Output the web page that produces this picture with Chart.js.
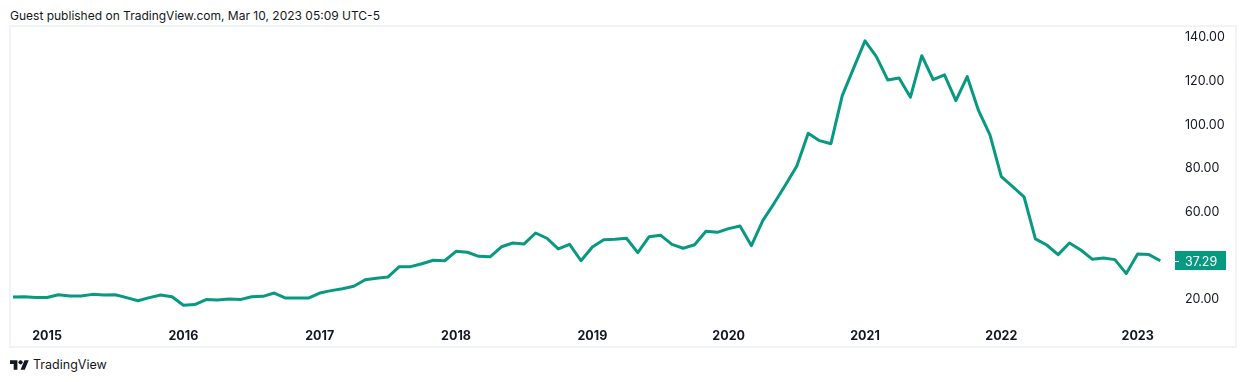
<!DOCTYPE html>
<html lang="en">
<head>
    <meta charset="UTF-8">
    <title>TradingView snapshot</title>
    <script src="https://cdn.jsdelivr.net/npm/chart.js"></script>
    <style>
        * {
            margin: 0;
            padding: 0;
            box-sizing: border-box;
        }
        body {
            width: 1246px;
            height: 382px;
            background: #ffffff;
            color: #131722;
            font-family: Inter, sans-serif;
            overflow: hidden;
            position: relative;
        }
        .published {
            position: absolute;
            left: 10px;
            top: 8px;
            font-size: 12px;
            line-height: 15px;
            white-space: nowrap;
        }
        .frame {
            position: absolute;
            left: 9px;
            top: 25px;
            width: 1228px;
            height: 323px;
            border: 2px solid #f0f3fa;
        }
        .frame div {
            position: relative;
            width: 1224px;
            height: 319px;
        }
        .brand {
            position: absolute;
            left: 10px;
            top: 357px;
            font-size: 12.5px;
            line-height: 16px;
            display: flex;
            align-items: center;
            gap: 4px;
        }
    </style>
</head>
<body>
    <div class="published">Guest published on TradingView.com, Mar 10, 2023 05:09 UTC-5</div>
    <div class="frame"><div><canvas id="chart"></canvas></div></div>
    <div class="brand">
        <svg width="19" height="15" viewBox="0 0 36 28"><path fill="#131722" d="M14 22H7V11H0V4h14v18zM28 22h-8l7.5-18h8L28 22z"/><circle fill="#131722" cx="20" cy="8" r="4"/></svg>
        <span>TradingView</span>
    </div>

    <script>
        // monthly closes, Oct 2014 to Mar 2023
        const closes = [
            20.7, 20.8, 20.5, 20.5, 21.7, 21.1, 21.1, 21.9, 21.6, 21.7, 20.4, 19.0,
            20.4, 21.6, 20.8, 16.9, 17.2, 19.5, 19.3, 19.8, 19.5, 20.8, 21.0, 22.5,
            20.2, 20.2, 20.2, 22.5, 23.6, 24.5, 25.6, 28.6, 29.3, 29.8, 34.6, 34.6,
            35.9, 37.5, 37.3, 41.6, 41.2, 39.3, 39.1, 43.7, 45.4, 45.0, 50.0, 47.6,
            42.7, 44.8, 37.3, 43.6, 46.9, 47.1, 47.6, 41.0, 48.3, 49.0, 44.8, 43.0,
            44.6, 50.8, 50.3, 52.0, 53.2, 44.2, 55.7, 63.6, 72.0, 80.7, 95.7, 92.3,
            90.9, 112.9, 125.5, 138.0, 130.8, 120.1, 121.0, 112.2, 131.2, 120.2, 122.4, 110.6,
            121.6, 106.0, 94.9, 75.8, 71.2, 66.6, 47.3, 44.5, 40.1, 45.4, 42.2, 38.0,
            38.6, 37.8, 31.4, 40.4, 40.1, 37.29
        ];
        const yearLabels = ["2015", "2016", "2017", "2018", "2019", "2020", "2021", "2022", "2023"];
        const yearPositions = [3, 15, 27, 39, 51, 63, 75, 87, 99];
        // 40.00 is hidden behind the last price tag on the original
        const priceTicks = [20, 60, 80, 100, 120, 140];
        const lastPrice = closes[closes.length - 1];
        const green = "#089981";

        const lastPriceTag = {
            id: "lastPriceTag",
            // Inter sits a bit high on a middle baseline, push the price labels down
            afterLayout(chart) {
                chart.scales.y.getLabelItems().forEach(item => {
                    item.options.translation[1] += 1;
                });
            },
            afterDraw(chart) {
                const ctx = chart.ctx;
                const left = chart.chartArea.right;
                const y = Math.round(chart.scales.y.getPixelForValue(lastPrice));
                ctx.save();
                ctx.fillStyle = green;
                ctx.fillRect(left, y - 10, 51, 19);
                ctx.fillStyle = "#ffffff";
                ctx.fillRect(left, y, 4, 1);
                ctx.font = "12.5px Inter";
                ctx.textBaseline = "middle";
                ctx.fillText(lastPrice.toFixed(2), left + 10, y + 1);
                ctx.restore();
            }
        };

        // the default fit leaves room for half a label past the ends of each axis
        function noAxisPadding(axis) {
            axis.paddingTop = 0;
            axis.paddingBottom = 0;
            axis.paddingLeft = 0;
            axis.paddingRight = 0;
        }

        new Chart(document.getElementById("chart"), {
            type: "line",
            data: {
                datasets: [{
                    data: closes.map((v, i) => ({ x: i, y: v })),
                    borderColor: green,
                    borderWidth: 3,
                    pointRadius: 0,
                    tension: 0,
                    borderJoinStyle: "round"
                }]
            },
            plugins: [lastPriceTag],
            options: {
                responsive: true,
                maintainAspectRatio: false,
                animation: false,
                layout: { padding: 0 },
                plugins: {
                    legend: { display: false },
                    tooltip: { enabled: false }
                },
                scales: {
                    x: {
                        type: "linear",
                        min: -0.176,
                        max: 102.29,
                        grid: { display: false, drawTicks: false },
                        border: { display: false },
                        afterBuildTicks: axis => {
                            axis.ticks = yearPositions.map(p => ({ value: p }));
                        },
                        afterFit: axis => {
                            axis.height = 24;
                            noAxisPadding(axis);
                        },
                        ticks: {
                            autoSkip: false,
                            maxRotation: 0,
                            padding: 7,
                            color: "#131722",
                            font: { family: "Inter", size: 12.5, weight: "bold" },
                            callback: value => yearLabels[yearPositions.indexOf(value)]
                        }
                    },
                    y: {
                        position: "right",
                        min: 9.24,
                        max: 144.35,
                        grid: { display: false, drawTicks: false },
                        border: { display: false },
                        afterBuildTicks: axis => {
                            axis.ticks = priceTicks.map(p => ({ value: p }));
                        },
                        afterFit: axis => {
                            axis.width = 60;
                            noAxisPadding(axis);
                        },
                        ticks: {
                            padding: 10,
                            color: "#131722",
                            font: { family: "Inter", size: 12.5 },
                            callback: value => value.toFixed(2)
                        }
                    }
                }
            }
        });
    </script>
</body>
</html>
